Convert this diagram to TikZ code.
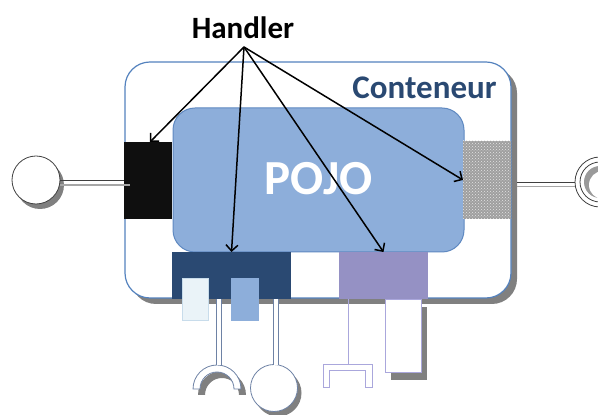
\documentclass[tikz,border=0pt]{standalone}
\usepackage{fontspec}
\setmainfont{Carlito}
\usetikzlibrary{arrows.meta,patterns}
\definecolor{contc}{RGB}{84,130,190}
\definecolor{pojofill}{RGB}{141,174,218}
\definecolor{pojoline}{RGB}{95,137,193}
\definecolor{navy}{RGB}{42,73,114}
\definecolor{purp}{RGB}{149,145,196}
\definecolor{lav}{RGB}{170,167,220}
\definecolor{lightbox}{RGB}{234,243,248}
\definecolor{lightline}{RGB}{200,220,235}
\definecolor{linkc}{RGB}{110,130,165}
\definecolor{shad}{RGB}{128,128,128}
\begin{document}
\begin{tikzpicture}[x=1pt,y=1pt,
  box/.style={rectangle,inner sep=0pt,outer sep=0pt},
  handarrow/.style={-{Straight Barb[length=6pt,width=12pt]},line width=1.5pt,black},
  link/.style={draw=linkc,double=white,double distance=3.5pt,line width=0.8pt},
  shadowfill/.style={fill=shad,draw=none},
  plug/.style={circle,inner sep=0pt,outer sep=0pt,draw=black!75,fill=white,line width=0.8pt}]
\useasboundingbox (0,0) rectangle (598,415);

% container
\node[box,shadowfill,rounded corners=25pt,minimum width=386pt,minimum height=236pt] (contshadow) at (324,229) {};
\node[box,draw=contc,fill=white,line width=1.2pt,rounded corners=25pt,minimum width=386pt,minimum height=236pt] (cont) at (318,235) {};
\node[anchor=base,text=navy,font=\fontsize{33}{33}\selectfont\bfseries] (conteneur) at (424.5,316) {Conteneur};

% POJO
\node[box,draw=pojoline,fill=pojofill,line width=1pt,rounded corners=22pt,minimum width=291pt,minimum height=144pt] (pojo) at (318.5,235) {};
\node[anchor=base,text=white,font=\fontsize{49}{49}\selectfont\bfseries] (pojotext) at (318.5,220) {POJO};

% side boxes
\node[box,fill=black!94,minimum width=48pt,minimum height=77pt] (bb) at (148,234.5) {};
\node[box,fill=gray!75,minimum width=48pt,minimum height=78pt] (hb) at (487,235) {};
\fill[pattern=crosshatch dots,pattern color=white!80!gray] (hb.south west) rectangle (hb.north east);

% bottom boxes
\node[box,fill=navy,minimum width=119pt,minimum height=47pt] (navybox) at (231.5,139.5) {};
\node[box,fill=purp,minimum width=89pt,minimum height=47pt] (purpbox) at (383.5,139.5) {};
\node[box,fill=lightbox,draw=lightline,line width=0.6pt,minimum width=26pt,minimum height=42pt] (lightb) at (195,116) {};
\node[box,fill=pojofill,minimum width=28pt,minimum height=43pt] (midb) at (245,115.5) {};

% left plug
\node[plug,shadowfill,minimum size=48pt] (lcs) at (40,230) {};
\node[plug,minimum size=48pt] (lc) at (36,235) {};
\draw[shad!70,line width=1.6pt] ([yshift=-5pt]lc.east) -- ([yshift=-5pt,xshift=6pt]lc.east -| bb.west);
\draw[black!75,line width=0.8pt] (lc.east) -- (lc.east -| bb.west);

% right ring
\node[plug,minimum size=50pt] (rr) at (600,233) {};
\node[plug,minimum size=40pt] (rri) at (600,233) {};
\fill[shad!80] (600,233) circle[radius=16];
\fill[white] (603,230) circle[radius=14];
\draw[shad!70,line width=1.6pt] ([yshift=-4.5pt,xshift=6pt]hb.east |- rr.west) -- ([yshift=-4.5pt]rr.west);
\draw[black!75,line width=0.8pt] ([xshift=6pt]hb.east |- rr.west) -- (rr.west);

% bottom left: hook
\coordinate (hooktop) at (219,50);
\fill[shad] (198,20) arc[start angle=180,end angle=0,radius=24] -- (239,20) arc[start angle=0,end angle=180,radius=17] -- cycle;
\draw[linkc,fill=white,line width=0.8pt] (193,26) arc[start angle=180,end angle=0,radius=24] -- (234,26) arc[start angle=0,end angle=180,radius=17] -- cycle;
\draw[link] (navybox.south -| hooktop) -- (hooktop);

% bottom left: circle
\node[plug,shadowfill,minimum size=47pt] (c2s) at (278,22) {};
\node[plug,draw=linkc,minimum size=47pt] (c2) at (274,27) {};
\coordinate (c2top) at (276,50);
\draw[link] (navybox.south -| c2top) -- (c2top);

% purple side: bracket
\coordinate (brtop) at (348,50);
\draw[lav,line width=1pt] (purpbox.south -| brtop) -- (brtop);
\draw[lav,fill=white,line width=1pt] (323,50) -- (372,50) -- (372,27) -- (365,27) -- (365,44) -- (329,44) -- (329,27) -- (323,27) -- cycle;

% purple side: tall plug
\node[box,shadowfill,minimum width=36pt,minimum height=73pt] (tps) at (409,71.5) {};
\node[box,draw=lav,fill=white,line width=1pt,minimum width=36pt,minimum height=73pt] (tp) at (403,78.5) {};

% Handler
\node[anchor=base,font=\fontsize{31}{31}\selectfont\bfseries] (handler) at (243,376) {Handler};
\coordinate (hub) at (244,368);
\draw[handarrow] (hub) -- ([xshift=2pt]bb.north);
\draw[handarrow] (hub) -- (navybox.north);
\draw[handarrow] (hub) -- (purpbox.north);
\draw[handarrow] (hub) -- (hb.west);
\end{tikzpicture}
\end{document}
